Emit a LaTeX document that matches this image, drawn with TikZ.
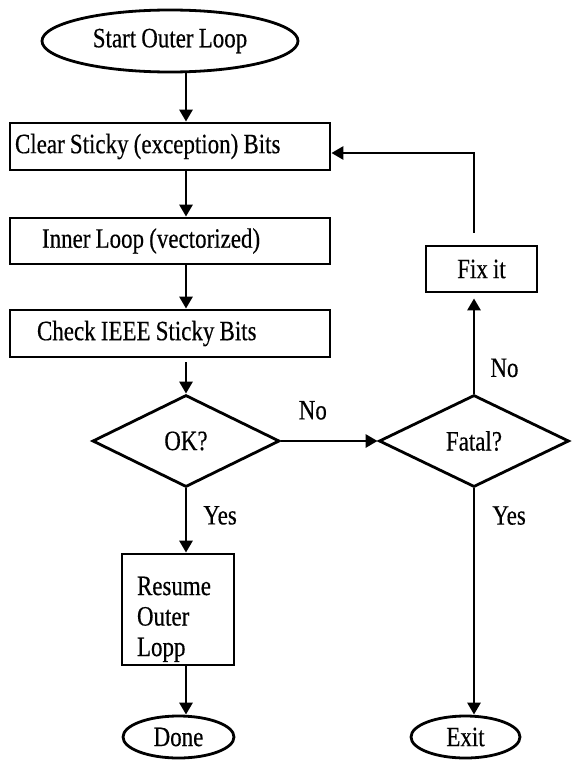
\documentclass[tikz,border=0pt]{standalone}
\usepackage{fontspec}
\setmainfont{Liberation Serif}[FakeStretch=0.82, WordSpace=0.9, FakeBold=0.4]
\usetikzlibrary{arrows.meta, positioning, shapes.geometric}

\tikzset{
  procbox/.style={draw, line width=2.8pt, inner sep=0pt, align=left,
                  execute at begin node=\spaceskip0pt\relax},
  termnode/.style={draw, ellipse, line width=2.8pt, inner sep=0pt},
  decnode/.style={draw, diamond, line width=2.8pt, inner sep=0pt},
  flowarrow/.style={line width=2.8pt, -{Triangle[length=12pt, width=13pt]}},
  edgelbl/.style={inner sep=0pt}
}

\begin{document}
\begin{tikzpicture}[x=1pt, y=-1pt, font=\fontsize{28}{30.5}\selectfont]
  \useasboundingbox (0,0) rectangle (571,760);

  % --- main column ---
  \node[termnode, minimum width=256pt, minimum height=62pt] (start) at (170,41) {Start Outer Loop};
  \node[procbox, text width=320pt, minimum height=47pt] (clear) at (170,146.5)
       {\hspace*{5pt}Clear Sticky (exception) Bits};
  \node[procbox, text width=320pt, minimum height=46pt] (inner) at (170,241)
       {\hspace*{32pt}Inner Loop (vectorized)};
  \node[procbox, text width=320pt, minimum height=47pt] (check) at (170,333.5)
       {\hspace*{27pt}Check IEEE Sticky Bits};
  \node[decnode, minimum width=187pt, minimum height=92pt] (ok) at (186,441) {OK?};
  \node[procbox, text width=112pt, minimum height=111pt] (resume) at (178,609.5)
       {\rule{0pt}{38pt}\hspace*{15pt}Resume\\\hspace*{15pt}Outer\\\hspace*{15pt}Lopp};
  \node[termnode, minimum width=111pt, minimum height=42pt] (done) at (178.5,737) {Done};

  % --- right column ---
  \node[decnode, minimum width=190pt, minimum height=92pt] (fatal) at (474,441) {Fatal?};
  \node[procbox, align=center, minimum width=111pt, minimum height=46pt] (fix) at (481.5,269) {Fix it};
  \node[termnode, minimum width=109pt, minimum height=42pt] (exit) at (465.5,737) {Exit};

  % --- connectors ---
  \draw[flowarrow] (ok.north |- start.south) -- (ok.north |- clear.north);
  \draw[flowarrow] (ok.north |- clear.south) -- (ok.north |- inner.north);
  \draw[flowarrow] (ok.north |- inner.south) -- (ok.north |- check.north);
  \draw[flowarrow] ([yshift=-4pt]ok.north |- check.south) -- (ok.north);
  \draw[flowarrow] (ok.east) -- (fatal.west)
       node[edgelbl, pos=.33, above=20pt] {No};
  \draw[flowarrow] (ok.south) -- (ok.south |- resume.north)
       node[edgelbl, pos=.42, right=16pt] {Yes};
  \draw[flowarrow] (ok.south |- resume.south) -- (ok.south |- done.north);
  \draw[flowarrow] (fatal.south) -- (fatal.south |- exit.north)
       node[edgelbl, pos=.12, right=17pt] {Yes};
  \draw[flowarrow] (fatal.north) -- ([yshift=-5pt]fatal.north |- fix.south)
       node[edgelbl, pos=.27, right=15pt] {No};
  % loop back
  \draw[flowarrow] ([yshift=12pt]fatal.north |- fix.north) |- ([yshift=-6.5pt]clear.east);
\end{tikzpicture}
\end{document}
